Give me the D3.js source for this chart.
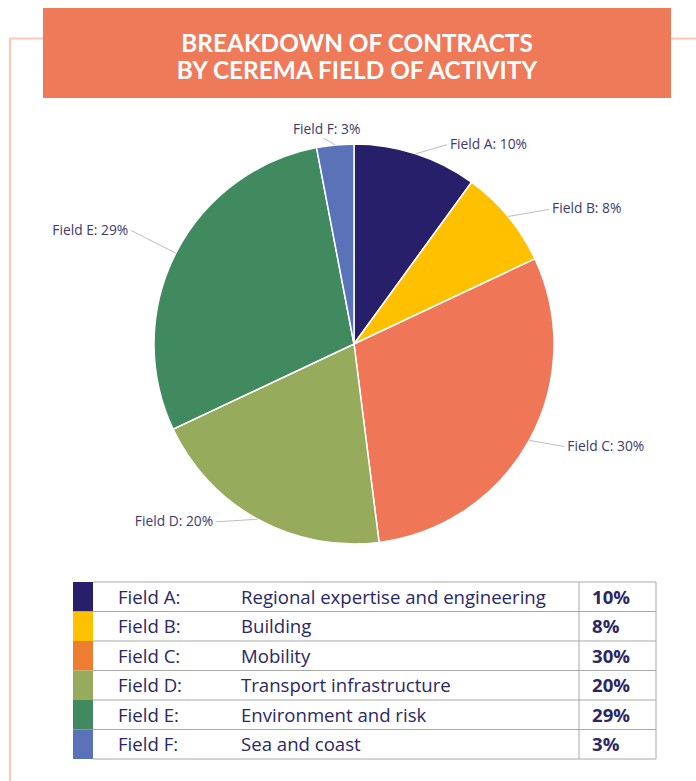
<!DOCTYPE html>
<html>
<head>
<meta charset="utf-8">
<script src="https://cdn.jsdelivr.net/npm/d3@7"></script>
<style>
  body { margin: 0; background: #fff; }
  svg { display: block; }
</style>
</head>
<body>
<svg id="chart" width="696" height="781"></svg>
<script>
// data
const fields = ["Field A", "Field B", "Field C", "Field D", "Field E", "Field F"];
const descriptions = ["Regional expertise and engineering", "Building", "Mobility",
                      "Transport infrastructure", "Environment and risk", "Sea and coast"];
const shares = [10, 8, 30, 20, 29, 3];
const pieColors = ["#271F69", "#FFC000", "#EF7758", "#97AB5C", "#418A5F", "#5A73B8"];
const legendColors = ["#271F69", "#FFC000", "#ED7D31", "#97AB5C", "#418A5F", "#5A73B8"];

// callout placement: [angle shift in degrees from slice middle, radius]
const calloutLayout = [[7, 220], [5, 237], [-2.8, 234], [9, 225], [0, 250], [-3, 208]];

const width = 696, height = 781;
const svg = d3.select("#chart");
const navy = "#2A2766";
const bodyFont = "'Open Sans', sans-serif";

// frame
svg.append("path")
  .attr("d", "M10,781 V38.5 H696")
  .attr("fill", "none")
  .attr("stroke", "#FFC6B6")
  .attr("stroke-width", 2);

// title banner
svg.append("rect")
  .attr("x", 43).attr("y", 8)
  .attr("width", 628).attr("height", 90)
  .attr("fill", "#EF7A5A");

const title = svg.append("text")
  .attr("text-anchor", "middle")
  .attr("fill", "#fff")
  .attr("font-family", "Lato, sans-serif")
  .attr("font-weight", "bold")
  .attr("font-size", "24.4px");
title.append("tspan").attr("x", 357).attr("y", 52).text("BREAKDOWN OF CONTRACTS");
title.append("tspan").attr("x", 357).attr("y", 79).text("BY CEREMA FIELD OF ACTIVITY");

// pie
const cx = 354, cy = 344, radius = 200;
const pie = d3.pie().sort(null).value(d => d)(shares);
const arc = d3.arc().innerRadius(0).outerRadius(radius);

const g = svg.append("g").attr("transform", `translate(${cx},${cy})`);

g.selectAll("path.slice")
  .data(pie)
  .join("path")
  .attr("class", "slice")
  .attr("d", arc)
  .attr("fill", (d, i) => pieColors[i])
  .attr("stroke", "#fff")
  .attr("stroke-width", 1.5);

// callouts
const polar = (a, r) => [r * Math.sin(a), -r * Math.cos(a)];
pie.forEach((d, i) => {
  const mid = (d.startAngle + d.endAngle) / 2;
  const p1 = polar(mid, radius);
  const [shift, r2] = calloutLayout[i];
  const p2 = polar(mid + shift * Math.PI / 180, r2);
  const top = Math.abs(p2[0]) < 40;
  g.append("line")
    .attr("x1", p1[0]).attr("y1", p1[1])
    .attr("x2", p2[0]).attr("y2", p2[1])
    .attr("stroke", "#bdbdbd")
    .attr("stroke-width", 1);
  g.append("text")
    .attr("x", top ? p2[0] + 3 : p2[0] + (p2[0] > 0 ? 3 : -3))
    .attr("y", top ? p2[1] - 4 : p2[1] + 4)
    .attr("text-anchor", top ? "middle" : (p2[0] > 0 ? "start" : "end"))
    .attr("fill", "#3C3A6E")
    .attr("font-family", bodyFont)
    .attr("font-size", "13.8px")
    .text(`${fields[i]}: ${shares[i]}%`);
});

// legend table
const tableTop = 582, rowH = 29.5;
const x0 = 73, xSw = 93, xSep = 579, xRight = 656;
const rowY = d3.scaleBand().domain(fields).range([tableTop, tableTop + rowH * fields.length]);

const table = svg.append("g");
const rows = table.selectAll("g.row")
  .data(fields)
  .join("g")
  .attr("class", "row")
  .attr("transform", d => `translate(0,${rowY(d)})`);

rows.append("line")
  .attr("x1", xSw).attr("x2", xRight)
  .attr("y1", 0).attr("y2", 0)
  .attr("stroke", "#a8a8a8");

rows.append("rect")
  .attr("x", x0).attr("y", 0)
  .attr("width", xSw - x0).attr("height", rowY.bandwidth())
  .attr("fill", (d, i) => legendColors[i]);

const textY = rowY.bandwidth() / 2 + 7;
rows.append("text")
  .attr("x", 118).attr("y", textY)
  .attr("fill", navy)
  .attr("font-family", bodyFont)
  .attr("font-size", "18.6px")
  .text(d => d + ":");

rows.append("text")
  .attr("x", 241).attr("y", textY)
  .attr("fill", navy)
  .attr("font-family", bodyFont)
  .attr("font-size", "18.6px")
  .text((d, i) => descriptions[i]);

rows.append("text")
  .attr("x", 592).attr("y", textY)
  .attr("fill", navy)
  .attr("font-family", bodyFont)
  .attr("font-weight", "bold")
  .attr("font-size", "18.6px")
  .text((d, i) => shares[i] + "%");

const tableBottom = tableTop + rowH * fields.length;
table.append("line")
  .attr("x1", xSw).attr("x2", xRight)
  .attr("y1", tableBottom).attr("y2", tableBottom)
  .attr("stroke", "#a8a8a8");
table.append("line")
  .attr("x1", xSep).attr("x2", xSep)
  .attr("y1", tableTop).attr("y2", tableBottom)
  .attr("stroke", "#a8a8a8");
table.append("line")
  .attr("x1", xRight).attr("x2", xRight)
  .attr("y1", tableTop).attr("y2", tableBottom)
  .attr("stroke", "#a8a8a8");
</script>
</body>
</html>
